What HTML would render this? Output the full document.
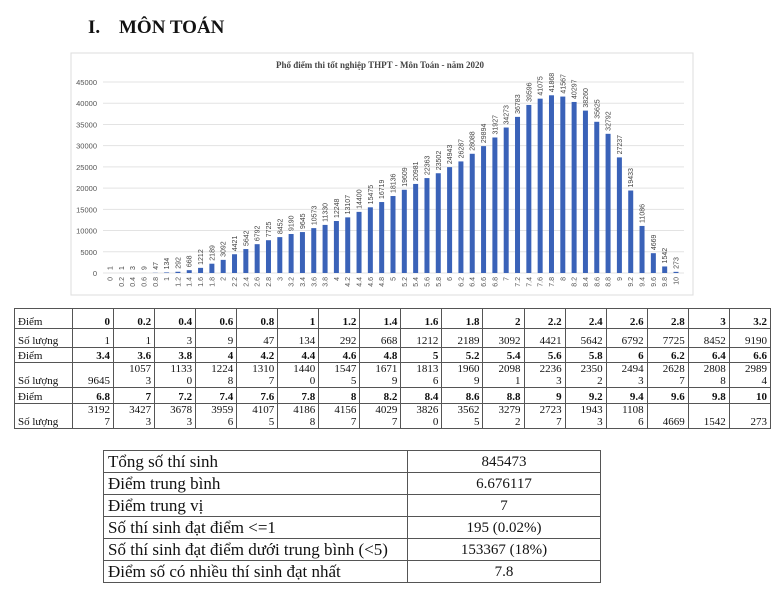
<!DOCTYPE html>
<html><head><meta charset="utf-8">
<style>
body{margin:0;background:#fff;width:780px;height:593px;position:relative;overflow:hidden;font-family:"Liberation Serif",serif;color:#111}
.t1{position:absolute;left:14px;top:308px;border-collapse:collapse;table-layout:fixed;width:757px;font-size:11px;line-height:12px}
.t1 td{border:1px solid #555;padding:0 3px;text-align:right;vertical-align:bottom}
.t1 td:first-child{text-align:left}
.t1 tr.h td{font-weight:bold}
.t1 tr.h td:first-child{font-weight:normal}
.t2{position:absolute;left:103px;top:450px;border-collapse:collapse;table-layout:fixed;width:498px;font-size:17px;line-height:20px}
.t2 td{border:1px solid #555;padding:0 4px;height:21px}
.t2 td:nth-child(2){text-align:center;font-size:15px}
</style></head><body>
<div style="position:absolute;left:88px;top:17px;font-weight:bold;font-size:19px;">I.</div>
<div style="position:absolute;left:119px;top:17px;font-weight:bold;font-size:19px;">MÔN TOÁN</div>
<svg id="c" width="780" height="300" style="position:absolute;left:0;top:0"></svg>
<table class="t1">
<colgroup><col style="width:58px"></colgroup>
<tr class="h" style="height:20px"><td>Điểm</td><td>0</td><td>0.2</td><td>0.4</td><td>0.6</td><td>0.8</td><td>1</td><td>1.2</td><td>1.4</td><td>1.6</td><td>1.8</td><td>2</td><td>2.2</td><td>2.4</td><td>2.6</td><td>2.8</td><td>3</td><td>3.2</td></tr>
<tr style="height:19px"><td>Số lượng</td><td>1</td><td>1</td><td>3</td><td>9</td><td>47</td><td>134</td><td>292</td><td>668</td><td>1212</td><td>2189</td><td>3092</td><td>4421</td><td>5642</td><td>6792</td><td>7725</td><td>8452</td><td>9190</td></tr>
<tr class="h" style="height:15px"><td>Điểm</td><td>3.4</td><td>3.6</td><td>3.8</td><td>4</td><td>4.2</td><td>4.4</td><td>4.6</td><td>4.8</td><td>5</td><td>5.2</td><td>5.4</td><td>5.6</td><td>5.8</td><td>6</td><td>6.2</td><td>6.4</td><td>6.6</td></tr>
<tr style="height:24px"><td>Số lượng</td><td>9645</td><td>1057<br>3</td><td>1133<br>0</td><td>1224<br>8</td><td>1310<br>7</td><td>1440<br>0</td><td>1547<br>5</td><td>1671<br>9</td><td>1813<br>6</td><td>1960<br>9</td><td>2098<br>1</td><td>2236<br>3</td><td>2350<br>2</td><td>2494<br>3</td><td>2628<br>7</td><td>2808<br>8</td><td>2989<br>4</td></tr>
<tr class="h" style="height:16px"><td>Điểm</td><td>6.8</td><td>7</td><td>7.2</td><td>7.4</td><td>7.6</td><td>7.8</td><td>8</td><td>8.2</td><td>8.4</td><td>8.6</td><td>8.8</td><td>9</td><td>9.2</td><td>9.4</td><td>9.6</td><td>9.8</td><td>10</td></tr>
<tr style="height:25px"><td>Số lượng</td><td>3192<br>7</td><td>3427<br>3</td><td>3678<br>3</td><td>3959<br>6</td><td>4107<br>5</td><td>4186<br>8</td><td>4156<br>7</td><td>4029<br>7</td><td>3826<br>0</td><td>3562<br>5</td><td>3279<br>2</td><td>2723<br>7</td><td>1943<br>3</td><td>1108<br>6</td><td>4669</td><td>1542</td><td>273</td></tr>
</table>
<table class="t2">
<colgroup><col style="width:304px"><col></colgroup>
<tr><td>Tổng số thí sinh</td><td>845473</td></tr>
<tr><td>Điểm trung bình</td><td>6.676117</td></tr>
<tr><td>Điểm trung vị</td><td>7</td></tr>
<tr><td>Số thí sinh đạt điểm &lt;=1</td><td>195 (0.02%)</td></tr>
<tr><td>Số thí sinh đạt điểm dưới trung bình (&lt;5)</td><td>153367 (18%)</td></tr>
<tr><td>Điểm số có nhiều thí sinh đạt nhất</td><td>7.8</td></tr>
</table>
<script>
var v=[1,1,3,9,47,134,292,668,1212,2189,3092,4421,5642,6792,7725,8452,9190,9645,10573,11330,12248,13107,14400,15475,16719,18136,19609,20981,22363,23502,24943,26287,28088,29894,31927,34273,36783,39596,41075,41868,41567,40297,38260,35625,32792,27237,19433,11086,4669,1542,273];
var s='<rect x="71" y="53" width="622" height="242" fill="#fff" stroke="#ddd"/>';
s+='<text x="380" y="68" text-anchor="middle" font-family="Liberation Serif" font-weight="bold" font-size="9" fill="#444">Phổ điểm thi tốt nghiệp THPT - Môn Toán - năm 2020</text>';
var y0=273,k=191/45000;
for(var g=0;g<=45000;g+=5000){var y=y0-g*k;s+='<line x1="103" x2="684" y1="'+y+'" y2="'+y+'" stroke="#e3e3e3"/>';s+='<text x="97" y="'+(y+3)+'" text-anchor="end" font-family="Liberation Sans" font-size="7.5" fill="#555">'+g+'</text>';}
for(var i=0;i<51;i++){var x=110+i*11.32,h=v[i]*k;
s+='<rect x="'+(x-2.5)+'" y="'+(y0-h)+'" width="5" height="'+h+'" fill="#3a62b8"/>';
s+='<text transform="translate('+(x+2.5)+','+(y0-h-3)+') rotate(-90)" font-family="Liberation Sans" font-size="7" fill="#444">'+v[i]+'</text>';
var lab=(Math.round(i*2)/10).toString();
s+='<text transform="translate('+(x+2.5)+',277) rotate(-90)" text-anchor="end" font-family="Liberation Sans" font-size="7" fill="#555">'+lab+'</text>';}
document.getElementById('c').innerHTML=s;
</script>
</body></html>
